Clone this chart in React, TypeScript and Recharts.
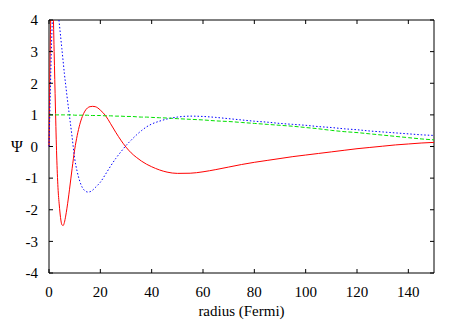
import { LineChart, Line, XAxis, YAxis, ReferenceArea } from 'recharts'

// plot frame in pixels (used by the inward tick marks)
const PLOT_TOP = 20
const PLOT_BOTTOM = 273
const PLOT_LEFT = 49
const PLOT_RIGHT = 434
const TICK_LEN = 4

const radius = [
  0, 0.5, 1, 1.5, 2, 2.5, 3, 3.5, 4, 4.5, 5, 5.5, 6, 6.5, 7,
  8, 9, 10, 11, 12, 13, 14, 15, 16, 17, 18, 19, 20,
  22, 24, 26, 28, 30, 32, 34, 36, 38, 40, 43, 46,
  50, 55, 60, 65, 70, 75, 80, 85, 90, 95, 100,
  105, 110, 115, 120, 125, 130, 135, 140, 145, 150
]

const psiRed = [
  0, 3.2, 5.2, 4.7, 3.0, 1.25, -0.3, -1.3, -1.85, -2.25, -2.47, -2.5, -2.4, -2.2, -1.95,
  -1.35, -0.7, -0.1, 0.35, 0.7, 0.95, 1.12, 1.22, 1.26, 1.27, 1.26, 1.22, 1.15,
  0.98, 0.72, 0.45, 0.2, -0.02, -0.2, -0.34, -0.46, -0.56, -0.64, -0.74, -0.81,
  -0.85, -0.845, -0.8, -0.73, -0.65, -0.57, -0.5, -0.44, -0.38, -0.32, -0.27,
  -0.22, -0.17, -0.12, -0.07, -0.03, 0.01, 0.05, 0.08, 0.11, 0.13
]

const psiBlue = [
  0, 1.7, 3.3, 4.3, 4.7, 4.75, 4.55, 4.25, 3.9, 3.5, 3.1, 2.7, 2.3, 1.95, 1.6,
  0.95, 0.3, -0.38, -0.8, -1.1, -1.3, -1.4, -1.44, -1.43, -1.38, -1.3, -1.22, -1.13,
  -0.88, -0.62, -0.38, -0.17, 0.03, 0.2, 0.36, 0.5, 0.62, 0.71, 0.8, 0.87,
  0.93, 0.96, 0.95, 0.92, 0.88, 0.84, 0.8, 0.77, 0.73, 0.7, 0.67,
  0.63, 0.6, 0.56, 0.53, 0.49, 0.46, 0.43, 0.4, 0.37, 0.35
]

const psiGreen = [
  1, 1, 1, 1, 1, 1, 1, 1, 1, 1, 1, 1, 1, 1, 1,
  1, 1, 0.99, 0.99, 0.99, 0.99, 0.99, 0.99, 0.98, 0.98, 0.98, 0.98, 0.98,
  0.97, 0.97, 0.96, 0.96, 0.95, 0.95, 0.94, 0.93, 0.93, 0.92, 0.91, 0.9,
  0.88, 0.86, 0.84, 0.81, 0.79, 0.76, 0.73, 0.7, 0.67, 0.64, 0.6,
  0.56, 0.51, 0.47, 0.44, 0.4, 0.36, 0.32, 0.28, 0.24, 0.21
]

const xTicks = [0, 20, 40, 60, 80, 100, 120, 140]
const yTicks = [-4, -3, -2, -1, 0, 1, 2, 3, 4]

const data = radius.map((r, i) => ({
  r,
  red: psiRed[i],
  blue: psiBlue[i],
  green: psiGreen[i]
}))

const FONT = "'Times New Roman', 'Liberation Serif', 'DejaVu Serif', serif"
const textStyle = { fontFamily: FONT, fontSize: 15 }

function XTick({ x, payload }: any) {
  return (
    <g>
      <line x1={x} x2={x} y1={PLOT_BOTTOM} y2={PLOT_BOTTOM - TICK_LEN} stroke="#000" />
      <line x1={x} x2={x} y1={PLOT_TOP} y2={PLOT_TOP + TICK_LEN} stroke="#000" />
      <text x={x} y={292} dy="0.35em" textAnchor="middle" style={textStyle} fill="#000">
        {payload.value}
      </text>
    </g>
  )
}

function YTick({ y, payload }: any) {
  return (
    <g>
      <line x1={PLOT_LEFT} x2={PLOT_LEFT + TICK_LEN} y1={y} y2={y} stroke="#000" />
      <line x1={PLOT_RIGHT} x2={PLOT_RIGHT - TICK_LEN} y1={y} y2={y} stroke="#000" />
      <text x={38} y={y} dy="0.35em" textAnchor="end" style={textStyle} fill="#000">
        {payload.value}
      </text>
    </g>
  )
}

export default function App() {
  return (
    <div style={{ position: 'absolute', left: 0, top: 0, background: '#fff', fontFamily: FONT }}>
      <LineChart
        width={463}
        height={324}
        data={data}
        margin={{ top: PLOT_TOP, right: 463 - PLOT_RIGHT, bottom: 0, left: 0 }}
        style={{ fontFamily: FONT }}
      >
        <XAxis
          dataKey="r"
          type="number"
          domain={[0, 150]}
          ticks={xTicks}
          interval={0}
          height={324 - PLOT_BOTTOM}
          axisLine={false}
          tickLine={false}
          tick={<XTick />}
          label={{ value: 'radius (Fermi)', position: 'insideBottom', offset: 8, style: textStyle, fill: '#000' }}
        />
        <YAxis
          type="number"
          domain={[-4, 4]}
          allowDataOverflow
          ticks={yTicks}
          interval={0}
          width={PLOT_LEFT}
          axisLine={false}
          tickLine={false}
          tick={<YTick />}
          label={{ value: 'Ψ', position: 'insideLeft', offset: 11, style: { fontFamily: FONT, fontSize: 16 }, fill: '#000' }}
        />
        <Line type="monotone" dataKey="red" stroke="#ff0000" strokeWidth={1} dot={false} isAnimationActive={false} />
        <Line type="monotone" dataKey="blue" stroke="#0000ff" strokeWidth={1} strokeDasharray="1.5 2" dot={false} isAnimationActive={false} />
        <Line type="monotone" dataKey="green" stroke="#00e000" strokeWidth={1} strokeDasharray="4 2" dot={false} isAnimationActive={false} />
        <ReferenceArea x1={0} x2={150} y1={-4} y2={4} fill="none" stroke="#000" strokeWidth={1} />
      </LineChart>
    </div>
  )
}
